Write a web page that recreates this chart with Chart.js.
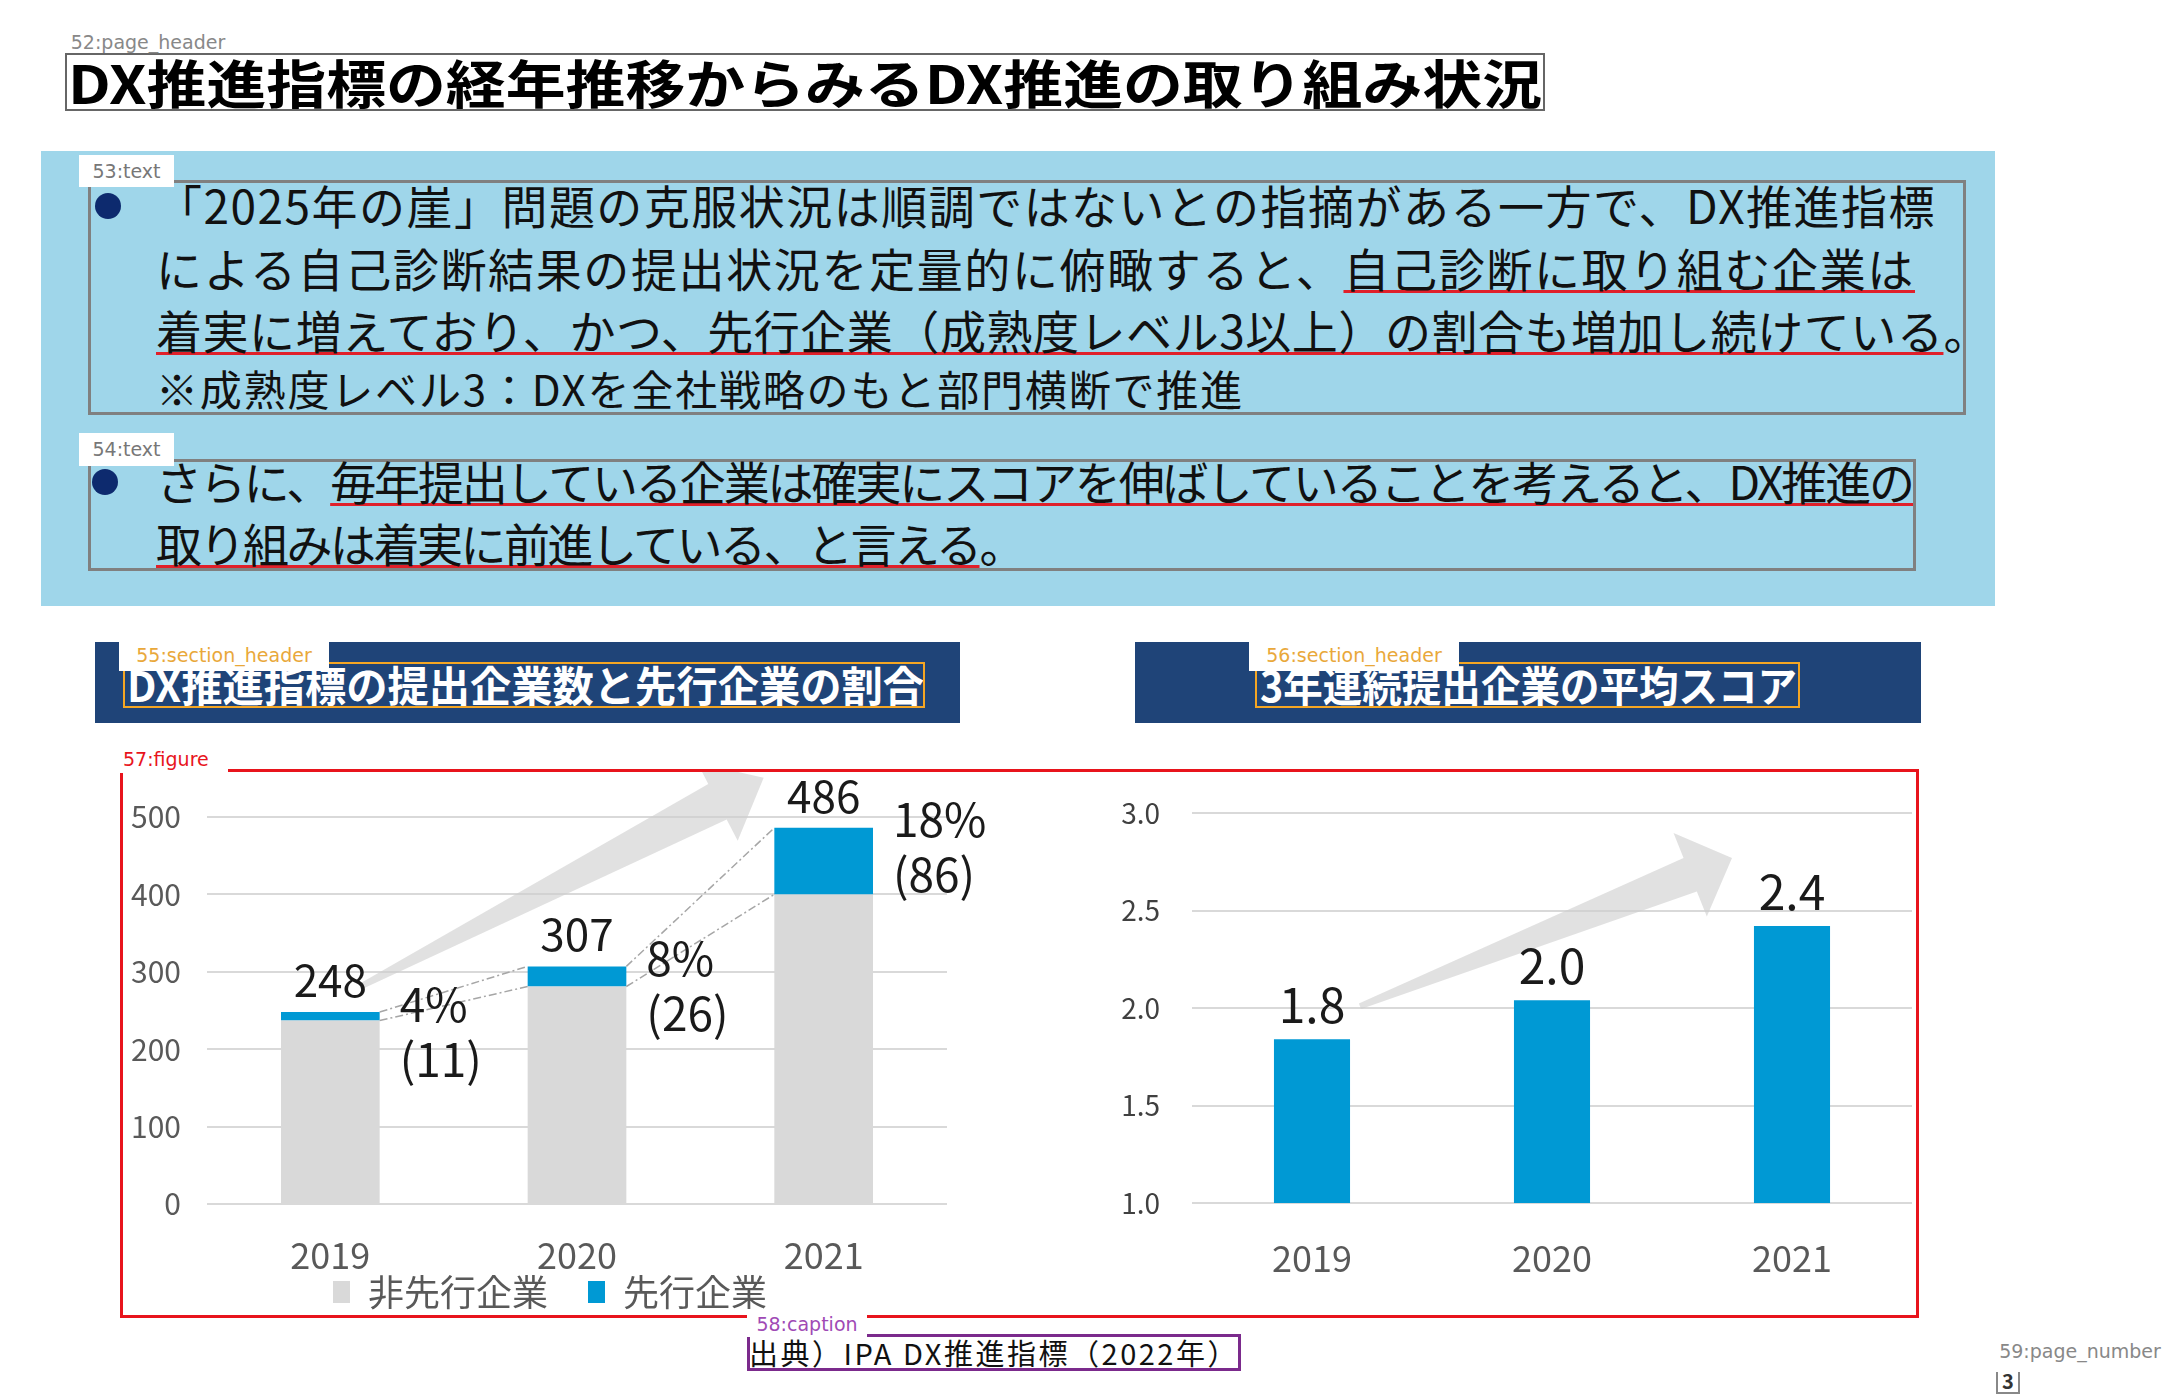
<!DOCTYPE html>
<html lang="ja">
<head>
<meta charset="utf-8">
<title>DX推進指標の経年推移からみるDX推進の取り組み状況</title>
<script src="https://cdn.jsdelivr.net/npm/chart.js@4.4.1/dist/chart.umd.min.js"></script>
<style>
html, body { margin: 0; padding: 0; background: #fff; }
body { width: 2168px; height: 1396px; position: relative; overflow: hidden; font-family: "Noto Sans CJK JP", "Noto Sans", sans-serif; color: #111; }
.box { position: absolute; box-sizing: border-box; }
.tag { position: absolute; box-sizing: border-box; font-family: "DejaVu Sans", sans-serif; font-size: 19px; background: #fff; text-align: center; white-space: nowrap; z-index: 5; }
.txt { position: absolute; white-space: nowrap; transform-origin: 0 50%; }
.line { font-size: 46px; height: 62px; line-height: 62px; }
.u { text-decoration: underline; text-decoration-color: #e0202a; text-decoration-thickness: 3px; text-underline-offset: 3px; }
.dot { position: absolute; width: 26px; height: 26px; border-radius: 50%; background: #0d2a6e; }
.sec { position: absolute; background: #1f4478; }
.sect { font-size: 42px; font-weight: 700; color: #fff; height: 50px; line-height: 50px; }
canvas { position: absolute; }
</style>
</head>
<body>

<!-- title -->
<div class="tag" style="left:62px;top:30px;width:172px;height:24px;line-height:24px;color:#888;background:transparent;">52:page_header</div>
<div class="box" style="left:65px;top:53px;width:1480px;height:58px;border:2px solid #666;"></div>
<div class="txt" data-w="1474" data-fit="scale" style="left:68px;top:53px;height:58px;line-height:58px;font-size:52px;font-weight:700;color:#000;">DX推進指標の経年推移からみるDX推進の取り組み状況</div>

<!-- blue panel -->
<div class="box" style="left:41px;top:151px;width:1954px;height:455px;background:#9fd6ea;"></div>

<div class="box" style="left:88px;top:180px;width:1878px;height:235px;border:3px solid #808080;"></div>
<div class="tag" style="left:79px;top:155px;width:95px;height:32px;line-height:32px;color:#777;">53:text</div>
<div class="dot" style="left:95px;top:193px;"></div>
<div class="txt line" data-w="1780" style="left:156px;top:173px;">「2025年の崖」問題の克服状況は順調ではないとの指摘がある一方で、DX推進指標</div>
<div class="txt line" data-w="1759" style="left:156px;top:236px;">による自己診断結果の提出状況を定量的に俯瞰すると、<span class="u">自己診断に取り組む企業は</span></div>
<div class="txt line" data-w="1834" style="left:156px;top:298px;"><span class="u">着実に増えており、かつ、先行企業（成熟度レベル3以上）の割合も増加し続けている</span>。</div>
<div class="txt line" data-w="1088" style="left:156px;top:357px;font-size:42px;">※成熟度レベル3：DXを全社戦略のもと部門横断で推進</div>

<div class="box" style="left:88px;top:459px;width:1828px;height:112px;border:3px solid #808080;"></div>
<div class="tag" style="left:79px;top:433px;width:95px;height:33px;line-height:33px;color:#777;">54:text</div>
<div class="dot" style="left:92px;top:469px;"></div>
<div class="txt line" data-w="1757" style="left:156px;top:449px;">さらに、<span class="u">毎年提出している企業は確実にスコアを伸ばしていることを考えると、DX推進の</span></div>
<div class="txt line" data-w="867" style="left:156px;top:511px;"><span class="u">取り組みは着実に前進している、と言える</span>。</div>

<!-- section headers -->
<div class="sec" style="left:95px;top:642px;width:865px;height:81px;"></div>
<div class="txt sect" data-w="797" data-fit="scale" style="left:127px;top:659px;">DX推進指標の提出企業数と先行企業の割合</div>
<div class="box" style="left:123px;top:662px;width:802px;height:46px;border:2px solid #f5a623;z-index:4;"></div>
<div class="tag" style="left:119px;top:640px;width:210px;height:31px;line-height:31px;color:#e9a83a;">55:section_header</div>

<div class="sec" style="left:1135px;top:642px;width:786px;height:81px;"></div>
<div class="txt sect" data-w="537" data-fit="scale" style="left:1260px;top:659px;">3年連続提出企業の平均スコア</div>
<div class="box" style="left:1255px;top:662px;width:545px;height:46px;border:2px solid #f5a623;z-index:4;"></div>
<div class="tag" style="left:1249px;top:640px;width:210px;height:31px;line-height:31px;color:#e9a83a;">56:section_header</div>

<!-- charts -->
<canvas id="countChart" width="880" height="550" style="left:120px;top:770px;"></canvas>
<canvas id="scoreChart" width="816" height="546" style="left:1100px;top:770px;"></canvas>

<div class="box" style="left:120px;top:769px;width:1799px;height:549px;border:3px solid #e8141c;z-index:4;"></div>
<div class="tag" style="left:120px;top:746px;width:108px;height:27px;line-height:27px;color:#e8141c;text-align:left;padding-left:3px;">57:figure</div>

<!-- caption -->
<div class="txt" data-w="490" style="left:749px;top:1333px;height:38px;line-height:38px;font-size:29px;background:#fff;">出典）IPA DX推進指標（2022年）</div>
<div class="box" style="left:747px;top:1334px;width:494px;height:37px;border:3px solid #7b2a8c;z-index:4;"></div>
<div class="tag" style="left:747px;top:1311px;width:120px;height:26px;line-height:26px;color:#a04ab5;">58:caption</div>

<!-- page number -->
<div class="tag" style="left:1992px;top:1338px;width:176px;height:26px;line-height:26px;color:#888;background:transparent;">59:page_number</div>
<div class="box" style="left:1996px;top:1372px;width:24px;height:22px;border:2px solid #888;border-top:none;font-size:20px;line-height:18px;text-align:center;font-weight:700;color:#333;">3</div>

<script>
const years = ['2019', '2020', '2021'];
const nonLeading = [237, 281, 400];
const leading = [11, 26, 86];
const seriesNames = ['非先行企業', '先行企業'];
const countTicks = [0, 500, 100];

const scoreYears = ['2019', '2020', '2021'];
const scores = [1.84, 2.04, 2.42];
const scoreTicks = [1.0, 3.0, 0.5];

function fitText() {
    document.querySelectorAll('[data-w]').forEach(el => {
        el.style.letterSpacing = '0px';
        el.style.transform = 'none';
        const w = el.getBoundingClientRect().width;
        const target = +el.dataset.w;
        if (el.dataset.fit === 'scale') {
            el.style.transform = 'scaleX(' + (target / w) + ')';
        } else {
            const n = [...el.textContent].length;
            el.style.letterSpacing = ((target - w) / n) + 'px';
        }
    });
}

function drawArrow(ctx, x1, y1, x2, y2, w0, w1, headLen, headW) {
    const a = Math.atan2(y2 - y1, x2 - x1);
    const ux = Math.cos(a), uy = Math.sin(a), nx = -uy, ny = ux;
    const bx = x2 - ux * headLen, by = y2 - uy * headLen;
    ctx.save();
    ctx.fillStyle = 'rgba(205, 205, 205, 0.6)';
    ctx.beginPath();
    ctx.moveTo(x1 + nx * w0 / 2, y1 + ny * w0 / 2);
    ctx.lineTo(bx + nx * w1 / 2, by + ny * w1 / 2);
    ctx.lineTo(bx + nx * headW / 2, by + ny * headW / 2);
    ctx.lineTo(x2, y2);
    ctx.lineTo(bx - nx * headW / 2, by - ny * headW / 2);
    ctx.lineTo(bx - nx * w1 / 2, by - ny * w1 / 2);
    ctx.lineTo(x1 - nx * w0 / 2, y1 - ny * w0 / 2);
    ctx.closePath();
    ctx.fill();
    ctx.restore();
}

const countDecor = {
    id: 'countDecor',
    beforeDatasetsDraw(chart) {
        const bars = chart.getDatasetMeta(1).data;
        const first = bars[0], last = bars[bars.length - 1];
        drawArrow(chart.ctx, first.x + 31, first.y - 26, last.x - 60, last.y - 50, 6, 40, 52, 88);
    },
    afterDatasetsDraw(chart) {
        const ctx = chart.ctx;
        const bars = chart.getDatasetMeta(1).data;
        ctx.save();
        // series lines between the leading segments
        ctx.strokeStyle = '#a6a6a6';
        ctx.lineWidth = 1.5;
        ctx.setLineDash([8, 3, 2, 3]);
        for (let i = 0; i < bars.length - 1; i++) {
            const a = bars[i], b = bars[i + 1];
            ctx.beginPath();
            ctx.moveTo(a.x + a.width / 2, a.y);
            ctx.lineTo(b.x - b.width / 2, b.y);
            ctx.moveTo(a.x + a.width / 2, a.base);
            ctx.lineTo(b.x - b.width / 2, b.base);
            ctx.stroke();
        }
        ctx.setLineDash([]);
        ctx.fillStyle = '#1a1a1a';
        bars.forEach((bar, i) => {
            const total = nonLeading[i] + leading[i];
            ctx.font = '44px "Noto Sans CJK JP", sans-serif';
            ctx.textAlign = 'center';
            ctx.textBaseline = 'bottom';
            ctx.fillText(String(total), bar.x, bar.y - 10);
            ctx.font = '46px "Noto Sans CJK JP", sans-serif';
            ctx.textAlign = 'left';
            ctx.textBaseline = 'middle';
            const tx = bar.x + bar.width / 2 + 20;
            ctx.fillText(Math.round(leading[i] / total * 100) + '%', tx, bar.y - 8);
            ctx.fillText('(' + leading[i] + ')', tx, bar.y + 47);
        });
        ctx.restore();
    }
};

const scoreDecor = {
    id: 'scoreDecor',
    beforeDatasetsDraw(chart) {
        const bars = chart.getDatasetMeta(0).data;
        const first = bars[0], last = bars[bars.length - 1];
        drawArrow(chart.ctx, first.x + 48, first.y - 33, last.x - 60, last.y - 68, 6, 36, 45, 90);
    },
    afterDatasetsDraw(chart) {
        const ctx = chart.ctx;
        const bars = chart.getDatasetMeta(0).data;
        ctx.save();
        ctx.fillStyle = '#1a1a1a';
        ctx.font = '48px "Noto Sans CJK JP", sans-serif';
        ctx.textAlign = 'center';
        ctx.textBaseline = 'bottom';
        bars.forEach((bar, i) => ctx.fillText(scores[i].toFixed(1), bar.x, bar.y - 10));
        ctx.restore();
    }
};

function buildCharts() {
    Chart.defaults.font.family = '"Noto Sans CJK JP", sans-serif';

    new Chart(document.getElementById('countChart'), {
        type: 'bar',
        data: {
            labels: years,
            datasets: [
                { label: seriesNames[0], data: nonLeading, backgroundColor: '#d9d9d9', barPercentage: 0.4, categoryPercentage: 1 },
                { label: seriesNames[1], data: leading, backgroundColor: '#0099d4', barPercentage: 0.4, categoryPercentage: 1 }
            ]
        },
        options: {
            responsive: false,
            animation: false,
            layout: { padding: { top: 47, right: 53, left: 0, bottom: 0 } },
            plugins: {
                legend: {
                    position: 'bottom',
                    fullSize: false,
                    labels: {
                        boxWidth: 17, boxHeight: 22, padding: 4, color: '#595959', font: { size: 36 },
                        generateLabels: chart => {
                            const items = Chart.defaults.plugins.legend.labels.generateLabels(chart);
                            items.forEach((it, i) => { it.text += (i < items.length - 1) ? '\u3000' : '\u3000\u2002'; });
                            return items;
                        }
                    }
                },
                tooltip: { enabled: false }
            },
            scales: {
                x: {
                    stacked: true,
                    grid: { display: false, drawTicks: false },
                    border: { display: false },
                    ticks: { color: '#595959', font: { size: 36 }, padding: 30 },
                    afterFit: s => { s.height = 66; }
                },
                y: {
                    stacked: true,
                    min: countTicks[0],
                    max: countTicks[1],
                    ticks: { stepSize: countTicks[2], color: '#595959', font: { size: 30 }, padding: 26 },
                    grid: { color: '#d9d9d9', lineWidth: 2, drawTicks: false },
                    border: { display: false },
                    afterFit: s => { s.width = 87; }
                }
            }
        },
        plugins: [countDecor]
    });

    new Chart(document.getElementById('scoreChart'), {
        type: 'bar',
        data: {
            labels: scoreYears,
            datasets: [{ label: '平均スコア', data: scores, backgroundColor: '#0099d4', barPercentage: 0.317, categoryPercentage: 1 }]
        },
        options: {
            responsive: false,
            animation: false,
            layout: { padding: { top: 43, right: 4, left: 0, bottom: 0 } },
            plugins: { legend: { display: false }, tooltip: { enabled: false } },
            scales: {
                x: {
                    grid: { display: false, drawTicks: false },
                    border: { display: false },
                    ticks: { color: '#595959', font: { size: 36 }, padding: 34 },
                    afterFit: s => { s.height = 113; }
                },
                y: {
                    min: scoreTicks[0],
                    max: scoreTicks[1],
                    ticks: { stepSize: scoreTicks[2], color: '#404040', font: { size: 28 }, padding: 32, callback: v => Number(v).toFixed(1) },
                    grid: { color: '#d9d9d9', lineWidth: 2, drawTicks: false },
                    border: { display: false },
                    afterFit: s => { s.width = 92; s.paddingTop = 0; s.paddingBottom = 0; }
                }
            }
        },
        plugins: [scoreDecor]
    });
}

document.fonts.ready.then(() => {
    fitText();
    buildCharts();
});
</script>
</body>
</html>
